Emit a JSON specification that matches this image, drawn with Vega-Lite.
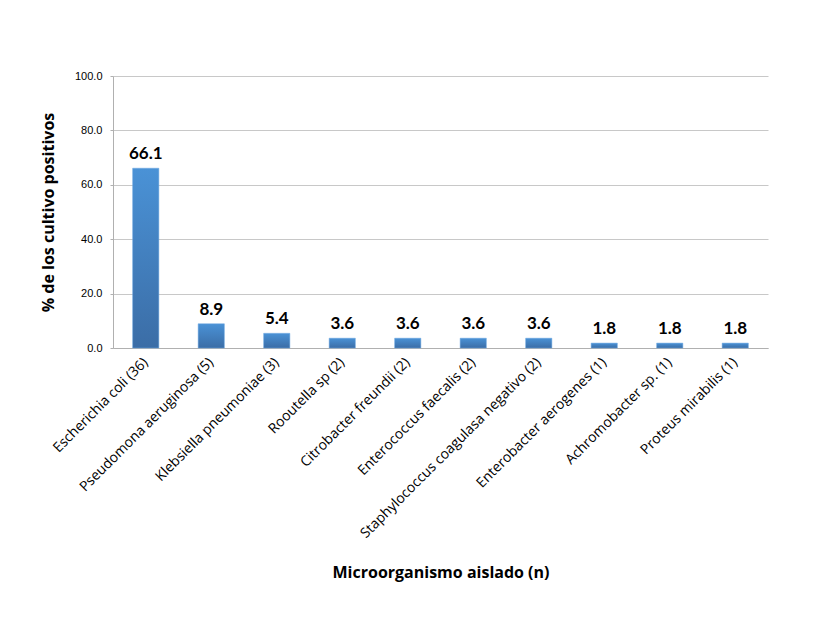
{
  "$schema": "https://vega.github.io/schema/vega-lite/v6.json",
  "width": 655,
  "height": 272,
  "autosize": {"type": "none"},
  "padding": {"left": 113, "top": 76, "right": 45, "bottom": 278},
  "background": "white",
  "data": {
    "values": [
      {"organismo": "Escherichia coli (36)", "pct": 66.1},
      {"organismo": "Pseudomona aeruginosa (5)", "pct": 8.9},
      {"organismo": "Klebsiella pneumoniae (3)", "pct": 5.4},
      {"organismo": "Rooutella sp (2)", "pct": 3.6},
      {"organismo": "Citrobacter freundii (2)", "pct": 3.6},
      {"organismo": "Enterococcus faecalis (2)", "pct": 3.6},
      {"organismo": "Staphylococcus coagulasa negativo (2)", "pct": 3.6},
      {"organismo": "Enterobacter aerogenes (1)", "pct": 1.8},
      {"organismo": "Achromobacter sp. (1)", "pct": 1.8},
      {"organismo": "Proteus mirabilis (1)", "pct": 1.8}
    ]
  },
  "encoding": {
    "x": {
      "field": "organismo",
      "type": "nominal",
      "sort": null,
      "scale": {"paddingInner": 0.6, "paddingOuter": 0.3},
      "axis": {
        "title": "Microorganismo aislado (n)",
        "titleFont": "Open Sans",
        "titleFontSize": 16,
        "titleFontWeight": "bold",
        "titleColor": "black",
        "titlePadding": 24,
        "labelAngle": -45,
        "labelAlign": "right",
        "labelBaseline": "middle",
        "labelPadding": 12,
        "labelFont": "Open Sans",
        "labelFontSize": 14,
        "labelColor": "black",
        "labelLimit": 400,
        "ticks": false,
        "domainColor": "#b0b0b0",
        "domainWidth": 1
      }
    },
    "y": {
      "field": "pct",
      "type": "quantitative",
      "scale": {"domain": [0, 100]},
      "axis": {
        "title": "% de los cultivo positivos",
        "titleFont": "Open Sans",
        "titleFontSize": 16,
        "titleFontWeight": "bold",
        "titleColor": "black",
        "titlePadding": 18,
        "values": [0, 20, 40, 60, 80, 100],
        "format": ".1f",
        "labelFont": "Liberation Sans",
        "labelFontSize": 11,
        "labelColor": "black",
        "labelPadding": 8,
        "tickSize": 3,
        "tickColor": "#b0b0b0",
        "gridColor": "#c8c8c8",
        "gridWidth": 1,
        "domainColor": "#b0b0b0"
      }
    }
  },
  "layer": [
    {
      "mark": {
        "type": "bar",
        "color": {
          "gradient": "linear",
          "x1": 0, "y1": 0, "x2": 0, "y2": 1,
          "stops": [
            {"offset": 0, "color": "#4a92d6"},
            {"offset": 1, "color": "#3b6da6"}
          ]
        },
        "stroke": "#6aa6e0",
        "strokeWidth": 0.5
      }
    },
    {
      "mark": {
        "type": "text",
        "font": "Lato",
        "fontSize": 17,
        "fontWeight": "bold",
        "color": "black",
        "baseline": "bottom",
        "dy": -5
      },
      "encoding": {
        "text": {"field": "pct", "type": "quantitative", "format": ".1f"}
      }
    }
  ],
  "config": {
    "view": {"stroke": null}
  }
}
